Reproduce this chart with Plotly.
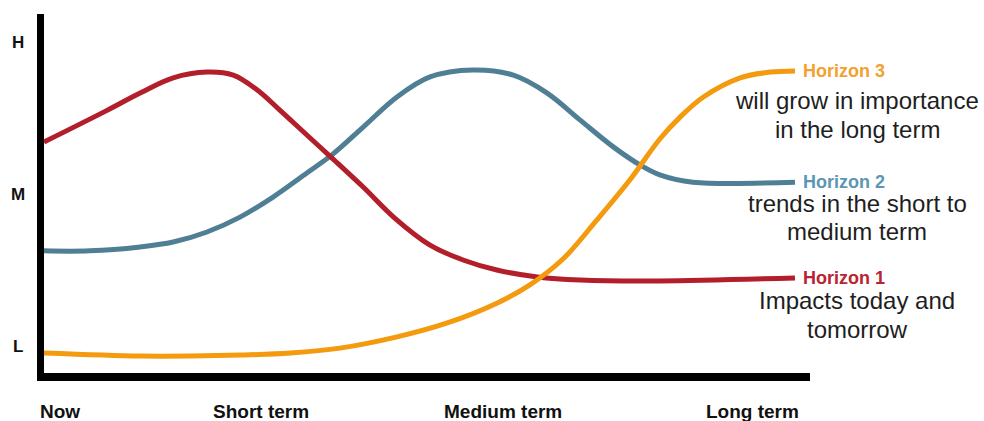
import plotly.graph_objects as go

# Time runs 0 (now) .. 100 (long term); importance L=0, M=50, H=100
stages = ["Now", "Short term", "Medium term", "Long term"]
stage_pos = [2.1, 28.9, 61.1, 94.3]
levels = ["H", "M", "L"]
level_vals = [100, 50, 0]

h1_t = [0, 8.4, 12.8, 17.2, 21.7, 25.2, 28.4, 31.4, 35.0, 38.5, 42.5, 46.7, 51.4, 55.8,
        60.3, 65.7, 71.4, 82.0, 100]
h1_v = [67.1, 77.5, 83.2, 88.2, 90.1, 89.1, 84.2, 77.6, 69.4, 61.5, 52.3, 42.1, 33.2, 28.3,
        25.0, 22.7, 21.7, 21.4, 22.4]

h2_t = [0, 6.1, 12.8, 17.2, 21.7, 26.1, 30.5, 35.0, 38.5, 42.5, 47.0, 51.4, 57.1, 62.5, 67.0,
        71.4, 75.8, 79.4, 82.0, 86.4, 100]
h2_v = [31.3, 31.3, 32.6, 34.2, 37.5, 42.4, 49.0, 56.9, 63.2, 72.0, 81.9, 88.5, 90.8, 89.1, 83.2,
        74.3, 65.5, 59.5, 56.3, 53.9, 53.9]

h3_t = [0, 12.8, 19.4, 26.1, 32.8, 39.4, 47.0, 53.7, 60.3, 64.7, 69.1, 73.6, 78.0, 82.0, 84.7,
        87.8, 92.7, 96.7, 100]
h3_v = [-2.3, -3.3, -3.3, -3.0, -2.3, -0.7, 3.0, 7.6, 14.1, 20.1, 28.6, 41.4, 54.6, 68.1, 75.3,
        81.9, 88.2, 90.1, 90.5]

# (name, t, v, line colour, label colour, description lines, gap to first description line in px)
series = [
    ("Horizon 2", h2_t, h2_v, "#4F7F95", "#5B97B5", ["trends in the short to", "medium term"], 21),
    ("Horizon 1", h1_t, h1_v, "#B21F2B", "#B8242F", ["Impacts today and", "tomorrow"], 23),
    ("Horizon 3", h3_t, h3_v, "#F39A0E", "#F4A030", ["will grow in importance", "in the long term"], 30),
]

W, H = 984, 421
# pixel <-> data scale of the plotting area
PX_PER_T = 7.51
PX_PER_V = 3.04
X0_PX = 44
Y0_PX = 346
FONT = "Arial, Liberation Sans, sans-serif"

fig = go.Figure()
annotations = []
for name, t, v, col, tcol, desc, gap in series:
    fig.add_trace(go.Scatter(
        x=t, y=v, mode="lines", name=name,
        line=dict(color=col, width=5, shape="spline", smoothing=1.0),
        hoverinfo="skip",
    ))
    # series name right after the line end, description centred below it
    annotations.append(dict(
        x=t[-1], y=v[-1], xref="x", yref="y", text=f"<b>{name}</b>",
        showarrow=False, xanchor="left", yanchor="middle", xshift=6,
        font=dict(family=FONT, size=18, color=tcol),
    ))
    for i, line in enumerate(desc):
        annotations.append(dict(
            x=857 / W, xref="paper", y=v[-1], yref="y", text=line,
            showarrow=False, xanchor="center", yanchor="middle",
            yshift=-(gap + 28.5 * i),
            font=dict(family=FONT, size=24, color="#1e1e1e"),
        ))

for lab, val in zip(levels, level_vals):
    annotations.append(dict(
        x=18 / W, xref="paper", y=val, yref="y", text=f"<b>{lab}</b>",
        showarrow=False, xanchor="center", yanchor="middle",
        font=dict(family=FONT, size=17, color="#111"),
    ))

for lab, pos in zip(stages, stage_pos):
    annotations.append(dict(
        x=pos, xref="x", y=1 - 411 / H, yref="paper", text=f"<b>{lab}</b>",
        showarrow=False, xanchor="center", yanchor="middle",
        font=dict(family=FONT, size=19, color="#111"),
    ))

shapes = [
    # vertical axis bar
    dict(type="rect", xref="paper", yref="paper",
         x0=37 / W, x1=44 / W, y0=1 - 381 / H, y1=1 - 14 / H,
         fillcolor="black", line=dict(width=0), layer="above"),
    # horizontal axis bar
    dict(type="rect", xref="paper", yref="paper",
         x0=37 / W, x1=810 / W, y0=1 - 381 / H, y1=1 - 373 / H,
         fillcolor="black", line=dict(width=0), layer="above"),
]

fig.update_layout(
    width=W, height=H,
    margin=dict(l=0, r=0, t=0, b=0),
    paper_bgcolor="white", plot_bgcolor="white",
    showlegend=False,
    xaxis=dict(range=[-X0_PX / PX_PER_T, (W - X0_PX) / PX_PER_T], visible=False, fixedrange=True),
    yaxis=dict(range=[(Y0_PX - H) / PX_PER_V, Y0_PX / PX_PER_V], visible=False, fixedrange=True),
    annotations=annotations,
    shapes=shapes,
)

fig.write_html("out.html")
